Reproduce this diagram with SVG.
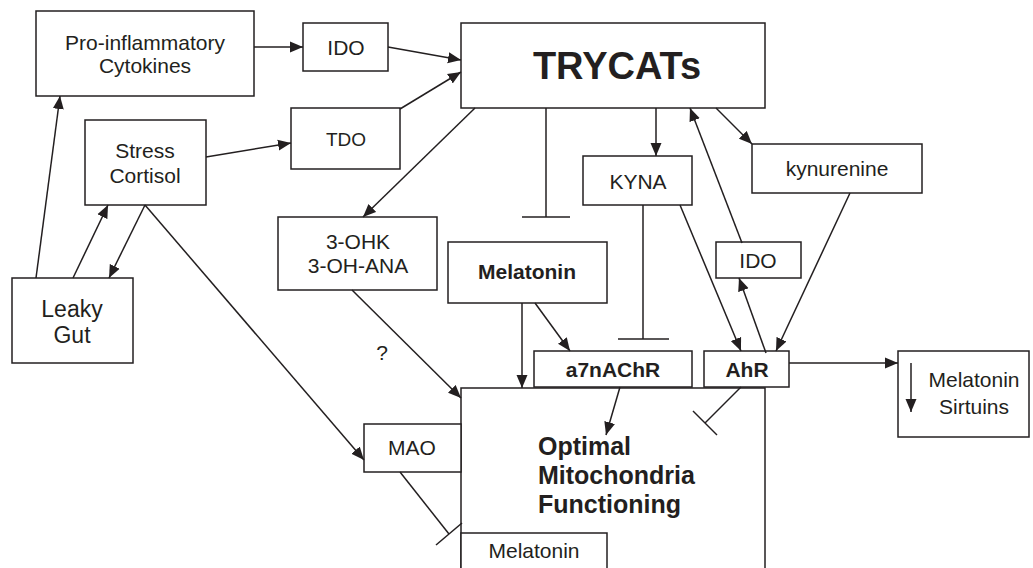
<svg xmlns="http://www.w3.org/2000/svg" width="1033" height="568" viewBox="0 0 1033 568">
<style>
.b{fill:#fff;stroke:#231f20;stroke-width:1.5}
.t{font-family:"Liberation Sans",Arial,sans-serif;font-size:21px;fill:#231f20;text-anchor:middle}
.bd{font-weight:bold}
.c line{stroke:#231f20;stroke-width:1.5;fill:none}
.c .a{marker-end:url(#ah)}
</style>
<defs>
<marker id="ah" markerUnits="userSpaceOnUse" markerWidth="14" markerHeight="12" refX="13" refY="6" orient="auto">
<path d="M0,0.5 L13,6 L0,11.5 z" fill="#231f20"/>
</marker>
</defs>
<rect width="1033" height="568" fill="#fff"/>
<g id="proinf"><rect class="b" x="36" y="11" width="218" height="85"/><text class="t" x="145" y="50">Pro-inflammatory</text><text class="t" x="145" y="73">Cytokines</text></g>
<g id="ido1"><rect class="b" x="303" y="23" width="85" height="48"/><text class="t" x="346" y="55">IDO</text></g>
<g id="tdo"><rect class="b" x="291" y="108" width="109" height="61"/><text class="t" x="346" y="146" style="font-size:19px">TDO</text></g>
<g id="stress"><rect class="b" x="85" y="120" width="121" height="85"/><text class="t" x="145" y="158">Stress</text><text class="t" x="145" y="183">Cortisol</text></g>
<g id="leaky"><rect class="b" x="12" y="278" width="121" height="85"/><text class="t" x="72" y="317" style="font-size:23px">Leaky</text><text class="t" x="72" y="343" style="font-size:23px">Gut</text></g>
<g id="trycats"><rect class="b" x="461" y="23" width="304" height="85"/><text class="t bd" x="617" y="79" style="font-size:38px">TRYCATs</text></g>
<g id="ohk"><rect class="b" x="278" y="217" width="159" height="73"/><text class="t" x="358" y="249">3-OHK</text><text class="t" x="358" y="273">3-OH-ANA</text></g>
<g id="kyna"><rect class="b" x="583" y="156" width="109" height="49"/><text class="t" x="638" y="189">KYNA</text></g>
<g id="kynurenine"><rect class="b" x="752" y="144" width="170" height="49"/><text class="t" x="837" y="176">kynurenine</text></g>
<g id="ido2"><rect class="b" x="716" y="242" width="85" height="36"/><text class="t" x="758" y="268">IDO</text></g>
<g id="melatonin1"><rect class="b" x="448" y="242" width="159" height="61"/><text class="t bd" x="527" y="279">Melatonin</text></g>
<g id="optimal"><rect class="b" x="461" y="388" width="304" height="190"/><text class="t bd" x="538" y="455" style="font-size:25px;text-anchor:start">Optimal</text><text class="t bd" x="538" y="484" style="font-size:25px;text-anchor:start">Mitochondria</text><text class="t bd" x="538" y="513" style="font-size:25px;text-anchor:start">Functioning</text></g>
<g id="a7"><rect class="b" x="534" y="351" width="158" height="36"/><text class="t bd" x="613" y="377">a7nAChR</text></g>
<g id="ahr"><rect class="b" x="704" y="351" width="85" height="36"/><text class="t bd" x="747" y="377">AhR</text></g>
<g id="mao"><rect class="b" x="364" y="424" width="97" height="48"/><text class="t" x="412" y="455">MAO</text></g>
<g id="melatonin2"><rect class="b" x="461" y="533" width="146" height="45"/><text class="t" x="534" y="558">Melatonin</text></g>
<g id="melsirt"><rect class="b" x="898" y="351" width="131" height="86"/><text class="t" x="974" y="387">Melatonin</text><text class="t" x="974" y="414">Sirtuins</text></g>
<g id="q"><text class="t" x="382" y="360">?</text></g>
<g id="connectors" class="c">
<line class="a" x1="254" y1="47" x2="303" y2="47"/>
<line class="a" x1="388" y1="47" x2="461" y2="60"/>
<line class="a" x1="400" y1="109" x2="461" y2="72"/>
<line class="a" x1="206" y1="157" x2="291" y2="143"/>
<line class="a" x1="36" y1="278" x2="60" y2="96"/>
<line class="a" x1="73" y1="278" x2="108" y2="205"/>
<line class="a" x1="145" y1="205" x2="109" y2="278"/>
<line class="a" x1="145" y1="205" x2="364" y2="460"/>
<line class="a" x1="475" y1="108" x2="363" y2="217"/>
<line class="a" x1="352" y1="290" x2="461" y2="398"/>
<line x1="546" y1="108" x2="546" y2="217"/>
<line x1="522" y1="217" x2="570" y2="217"/>
<line class="a" x1="656" y1="108" x2="656" y2="156"/>
<line x1="643" y1="205" x2="643" y2="339"/>
<line x1="618" y1="339" x2="669" y2="339"/>
<line class="a" x1="680" y1="205" x2="741" y2="351"/>
<line class="a" x1="766" y1="353" x2="739" y2="278"/>
<line class="a" x1="742" y1="243" x2="690" y2="108"/>
<line class="a" x1="716" y1="108" x2="752" y2="144"/>
<line class="a" x1="850" y1="193" x2="776" y2="351"/>
<line class="a" x1="789" y1="363" x2="898" y2="363"/>
<line class="a" x1="522" y1="303" x2="522" y2="388"/>
<line class="a" x1="535" y1="303" x2="570" y2="351"/>
<line class="a" x1="620" y1="387" x2="606" y2="435"/>
<line x1="741" y1="387" x2="705" y2="423"/>
<line x1="693" y1="411" x2="717" y2="435"/>
<line x1="400" y1="472" x2="449" y2="534"/>
<line x1="436" y1="545" x2="462" y2="523"/>
<line class="a" x1="911" y1="363" x2="911" y2="412"/>
</g>
</svg>
